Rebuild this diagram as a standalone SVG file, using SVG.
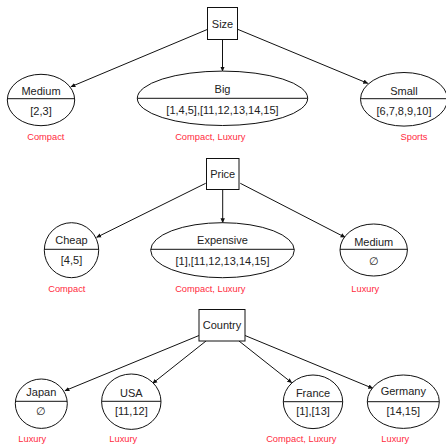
<svg xmlns="http://www.w3.org/2000/svg" width="446" height="445" viewBox="0 0 446 445">
<defs>
<marker id="ah" viewBox="0 0 8 8" refX="7" refY="4" markerWidth="5" markerHeight="5" orient="auto" markerUnits="userSpaceOnUse">
<path d="M0,0.5 L8,4 L0,7.5 Z" fill="#111"/>
</marker>
<style>
.sh{fill:#fff;stroke:#111;stroke-width:1}
.dv{stroke:#111;stroke-width:1}
.t{font-family:"Liberation Sans",Arial,sans-serif;font-size:11px;fill:#222;text-anchor:middle}
.r{font-family:"Liberation Sans",Arial,sans-serif;font-size:9.3px;fill:#ff2a40;text-anchor:middle}
.c{stroke:#111;stroke-width:1;fill:none;marker-end:url(#ah)}
</style>
</defs>
<rect width="446" height="445" fill="#fff"/>
<g id="connectors">
<line class="c" x1="207.7" y1="29.3" x2="71" y2="86.7"/>
<line class="c" x1="222.5" y1="39.5" x2="222.5" y2="71"/>
<line class="c" x1="237.7" y1="29.3" x2="367.7" y2="83.3"/>
<line class="c" x1="205.7" y1="183.3" x2="96.7" y2="237.3"/>
<line class="c" x1="222.7" y1="189.3" x2="222.7" y2="222.7"/>
<line class="c" x1="240.3" y1="183.3" x2="345" y2="237.3"/>
<line class="c" x1="199" y1="335.5" x2="65" y2="390.7"/>
<line class="c" x1="206" y1="341" x2="152.7" y2="383.3"/>
<line class="c" x1="239" y1="341" x2="291.7" y2="382.7"/>
<line class="c" x1="245" y1="335.5" x2="372.7" y2="388.3"/>
</g>
<g id="size">
<rect class="sh" x="207.5" y="7.5" width="30" height="32"/>
<text class="t" x="222.5" y="28">Size</text>
</g>
<g id="size-medium">
<ellipse class="sh" cx="41" cy="100" rx="33.7" ry="25.7"/>
<line class="dv" x1="7.3" y1="98.7" x2="74.7" y2="98.7"/>
<text class="t" x="41" y="94.5">Medium</text>
<text class="t" x="41" y="114.5">[2,3]</text>
<text class="r" x="45.8" y="140">Compact</text>
</g>
<g id="size-big">
<ellipse class="sh" cx="222.5" cy="98.3" rx="85.2" ry="27.2"/>
<line class="dv" x1="137.3" y1="98.3" x2="307.7" y2="98.3"/>
<text class="t" x="222.5" y="93">Big</text>
<text class="t" x="222.5" y="113.5">[1,4,5],[11,12,13,14,15]</text>
<text class="r" x="210.3" y="140">Compact, Luxury</text>
</g>
<g id="size-small">
<ellipse class="sh" cx="404" cy="99.3" rx="43.5" ry="26.8"/>
<line class="dv" x1="360.5" y1="98.7" x2="447.5" y2="98.7"/>
<text class="t" x="404" y="94.5">Small</text>
<text class="t" x="404" y="114.5">[6,7,8,9,10]</text>
<text class="r" x="414" y="140">Sports</text>
</g>
<g id="price">
<rect class="sh" x="206.5" y="158.5" width="32.5" height="31"/>
<text class="t" x="222.7" y="178">Price</text>
</g>
<g id="price-cheap">
<ellipse class="sh" cx="71.5" cy="250.2" rx="27.2" ry="27.5"/>
<line class="dv" x1="44.3" y1="249.3" x2="98.7" y2="249.3"/>
<text class="t" x="71.5" y="244">Cheap</text>
<text class="t" x="71.5" y="264">[4,5]</text>
<text class="r" x="66.8" y="291.7">Compact</text>
</g>
<g id="price-expensive">
<ellipse class="sh" cx="222.5" cy="250.2" rx="71.8" ry="27.5"/>
<line class="dv" x1="150.7" y1="249.3" x2="294.3" y2="249.3"/>
<text class="t" x="222.5" y="244.3">Expensive</text>
<text class="t" x="222.5" y="264.8">[1],[11,12,13,14,15]</text>
<text class="r" x="210.3" y="291.7">Compact, Luxury</text>
</g>
<g id="price-medium">
<ellipse class="sh" cx="373.7" cy="250" rx="33.7" ry="26"/>
<line class="dv" x1="340" y1="249.3" x2="407.4" y2="249.3"/>
<text class="t" x="373.7" y="246">Medium</text>
<text class="t" x="373.7" y="265">∅</text>
<text class="r" x="365.3" y="291.7">Luxury</text>
</g>
<g id="country">
<rect class="sh" x="199" y="309.5" width="46" height="31.5"/>
<text class="t" x="222" y="329">Country</text>
</g>
<g id="country-japan">
<ellipse class="sh" cx="41.3" cy="403.7" rx="26" ry="24.7"/>
<line class="dv" x1="15.4" y1="401.3" x2="67.2" y2="401.3"/>
<text class="t" x="41.3" y="395.5">Japan</text>
<text class="t" x="41.3" y="414.5">∅</text>
<text class="r" x="32.3" y="442.3">Luxury</text>
</g>
<g id="country-usa">
<ellipse class="sh" cx="131.3" cy="401.7" rx="29.7" ry="27.7"/>
<line class="dv" x1="101.6" y1="401.3" x2="161" y2="401.3"/>
<text class="t" x="131.3" y="396.5">USA</text>
<text class="t" x="131.3" y="415">[11,12]</text>
<text class="r" x="123.3" y="442.3">Luxury</text>
</g>
<g id="country-france">
<ellipse class="sh" cx="313" cy="401.8" rx="29.7" ry="26.8"/>
<line class="dv" x1="283.3" y1="401.7" x2="342.7" y2="401.7"/>
<text class="t" x="313" y="396.5">France</text>
<text class="t" x="313" y="415">[1],[13]</text>
<text class="r" x="301.3" y="442.3">Compact, Luxury</text>
</g>
<g id="country-germany">
<ellipse class="sh" cx="403.3" cy="401.7" rx="36" ry="26.7"/>
<line class="dv" x1="367.3" y1="401.7" x2="439.3" y2="401.7"/>
<text class="t" x="403.3" y="395">Germany</text>
<text class="t" x="403.3" y="415">[14,15]</text>
<text class="r" x="395.3" y="442.3">Luxury</text>
</g>
</svg>
